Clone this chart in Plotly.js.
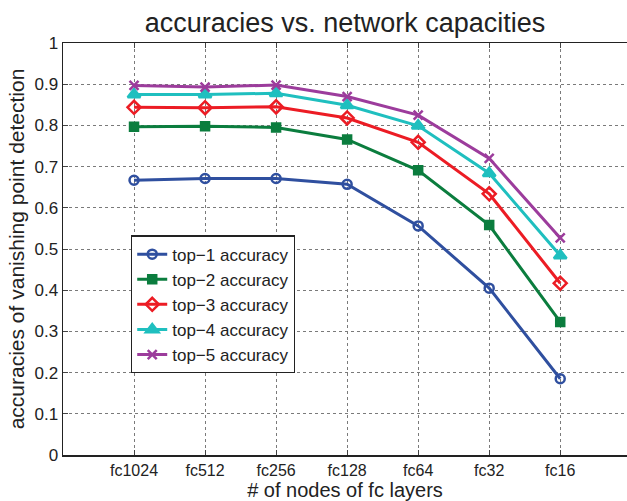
<!DOCTYPE html>
<html>
<head>
<meta charset="utf-8">
<script src="https://cdn.plot.ly/plotly-3.0.1.min.js"></script>
<style>html,body{margin:0;padding:0;background:#fff;}</style>
</head>
<body>
<div id="chart" style="width:627px;height:501px;"></div>
<script>
const categories = ["fc1024","fc512","fc256","fc128","fc64","fc32","fc16"];
const top1 = [0.667, 0.671, 0.671, 0.657, 0.556, 0.405, 0.185];
const top2 = [0.797, 0.798, 0.795, 0.766, 0.691, 0.558, 0.323];
const top3 = [0.844, 0.843, 0.845, 0.818, 0.759, 0.634, 0.417];
const top4 = [0.875, 0.875, 0.878, 0.849, 0.799, 0.684, 0.484];
const top5 = [0.897, 0.893, 0.898, 0.870, 0.825, 0.720, 0.527];
const seriesNames = ["top\u22121 accuracy","top\u22122 accuracy","top\u22123 accuracy","top\u22124 accuracy","top\u22125 accuracy"];
const yTicks = [0,0.1,0.2,0.3,0.4,0.5,0.6,0.7,0.8,0.9,1];
const yTickText = ["0","0.1","0.2","0.3","0.4","0.5","0.6","0.7","0.8","0.9","1"];

const xs = categories.map((c,i)=>i+1);
const colors = ["#2f4f9f","#0b7d3e","#ec1c24","#1fbfbf","#9c3c9c"];
const symbols = ["circle-open","square","diamond-open","triangle-up","x-thin-open"];
const sizes = [9,8,10,11,9];
const data = [top1,top2,top3,top4,top5].map((ys,k)=>({
  x: xs, y: ys, type:"scatter", mode:"lines+markers", name: seriesNames[k],
  legendgroup: "g"+k,
  line:{color:colors[k], width:3},
  marker:{symbol:symbols[k], size:sizes[k], color:colors[k], line:{color:colors[k], width:2.5}}
}));

const font = {family:"Liberation Sans, Arial, sans-serif", color:"#222"};
const layout = {
  width:627, height:501,
  margin:{l:63, r:0, t:43, b:46},
  paper_bgcolor:"#fff", plot_bgcolor:"#fff",
  font: Object.assign({size:17}, font),
  title:{text:"accuracies vs. network capacities", font:Object.assign({size:27}, font), x:0.5, xref:"paper", xanchor:"center", y:0.954, yanchor:"middle"},
  showlegend:true,
  legend:{x:0.1206, y:0.533, xanchor:"left", yanchor:"top", bgcolor:"#fff", bordercolor:"#222", borderwidth:1.2, font:Object.assign({size:17}, font), tracegroupgap:4.5, traceorder:"normal"},
  xaxis:{
    range:[0, 7.94], tickvals:xs, ticktext:categories, tickmode:"array",
    showgrid:true, gridcolor:"#7a7a7a", griddash:"dot", gridwidth:1,
    zeroline:false, showline:true, linecolor:"#222", linewidth:1.5, mirror:"ticks",
    ticks:"inside", ticklen:5, tickcolor:"#444", tickfont:Object.assign({size:16}, font),
    title:{text:"# of nodes of fc layers", font:Object.assign({size:20}, font), standoff:1}
  },
  yaxis:{
    range:[0,1], tickvals:yTicks, ticktext:yTickText, tickmode:"array",
    showgrid:true, gridcolor:"#7a7a7a", griddash:"dot", gridwidth:1,
    zeroline:false, showline:true, linecolor:"#222", linewidth:1.5, mirror:false,
    ticks:"inside", ticklen:5, tickcolor:"#444", tickfont:Object.assign({size:17}, font),
    title:{text:"accuracies of vanishing point detection", font:Object.assign({size:21}, font), standoff:4}
  }
};
Plotly.newPlot("chart", data, layout, {displayModeBar:false, staticPlot:true});
</script>
</body>
</html>
